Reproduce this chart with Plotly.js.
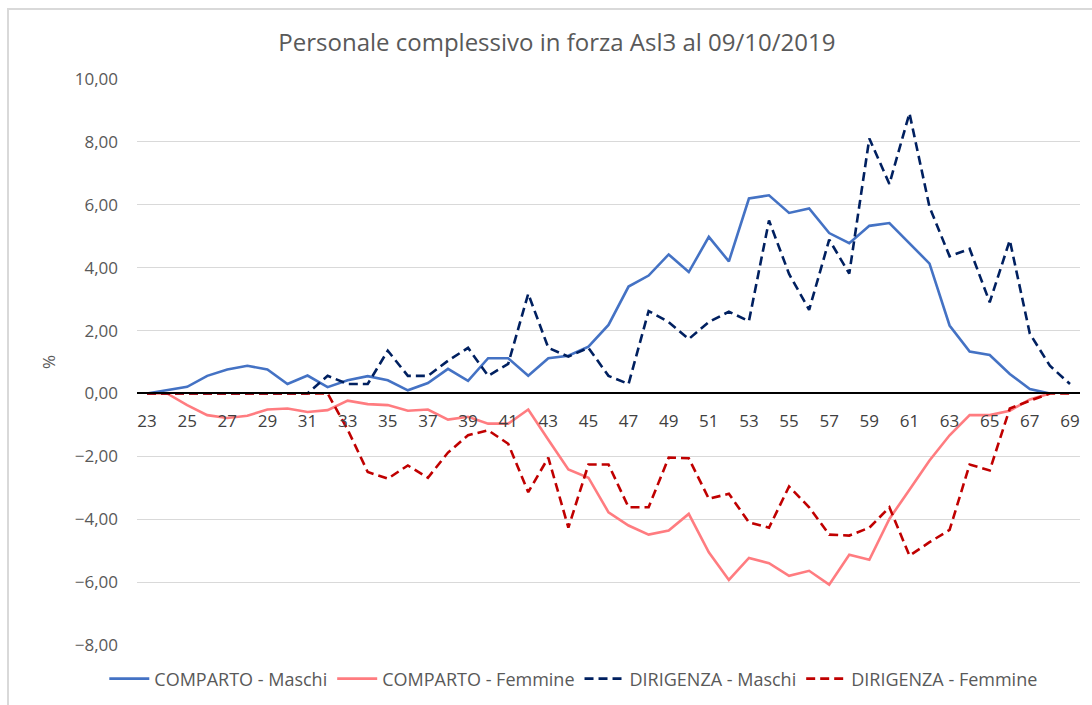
<!DOCTYPE html>
<html>
<head>
<meta charset="utf-8">
<script src="https://cdn.plot.ly/plotly-3.0.1.min.js"></script>
<style>
  html, body { margin: 0; padding: 0; background: #fff; }
  #chart { width: 1092px; height: 705px; }
</style>
</head>
<body>
<div id="chart"></div>
<script>
const ages = [];
for (let a = 23; a <= 69; a++) ages.push(a);

// valori (%), eta 23..69
const compMaschi = [0, 0.1, 0.21, 0.56, 0.76, 0.88, 0.76, 0.3, 0.57, 0.2,
    0.42, 0.55, 0.42, 0.1, 0.33, 0.78, 0.4, 1.12, 1.12, 0.56,
    1.12, 1.2, 1.49, 2.18, 3.4, 3.75, 4.42, 3.86, 4.98, 4.2,
    6.2, 6.3, 5.74, 5.88, 5.1, 4.78, 5.33, 5.42, 4.76, 4.13,
    2.16, 1.33, 1.22, 0.62, 0.14, 0, null];

const compFemmine = [0, 0, -0.37, -0.69, -0.78, -0.71, -0.51, -0.48, -0.59, -0.53,
    -0.23, -0.34, -0.37, -0.55, -0.51, -0.83, -0.74, -0.96, -0.96, -0.51,
    -1.47, -2.42, -2.68, -3.78, -4.2, -4.49, -4.36, -3.83, -5.05, -5.93,
    -5.23, -5.4, -5.8, -5.64, -6.08, -5.13, -5.29, -3.99, -3.06, -2.13,
    -1.33, -0.69, -0.69, -0.55, -0.19, 0, null];

const dirMaschi = [0, 0, 0, 0, 0, 0, 0, 0, 0, 0.56,
    0.3, 0.3, 1.36, 0.56, 0.56, 1.04, 1.45, 0.56, 0.94, 3.17,
    1.45, 1.17, 1.45, 0.56, 0.3, 2.62, 2.27, 1.73, 2.27, 2.6,
    2.3, 5.5, 3.8, 2.66, 4.89, 3.81, 8.11, 6.66, 8.91, 5.93,
    4.36, 4.6, 2.9, 4.87, 1.9, 0.88, 0.3];

const dirFemmine = [0, 0, 0, 0, 0, 0, 0, 0, 0, 0,
    -1.15, -2.5, -2.71, -2.29, -2.68, -1.88, -1.33, -1.17, -1.6, -3.14,
    -2.04, -4.27, -2.26, -2.26, -3.62, -3.62, -2.04, -2.06, -3.35, -3.19,
    -4.1, -4.27, -2.96, -3.62, -4.49, -4.52, -4.27, -3.62, -5.16, -4.73,
    -4.34, -2.26, -2.45, -0.48, -0.23, 0, 0];

const xTicks = [];
for (let a = 23; a <= 69; a += 2) xTicks.push(a);
const yTicks = [-8, -6, -4, -2, 0, 2, 4, 6, 8, 10];

const font = 'Open Sans, Liberation Sans, sans-serif';

const traces = [
    { x: ages, y: compMaschi, name: 'COMPARTO - Maschi',
      line: { color: '#4472C4', width: 2.6 } },
    { x: ages, y: compFemmine, name: 'COMPARTO - Femmine',
      line: { color: '#FF7C80', width: 2.6 } },
    { x: ages, y: dirMaschi, name: 'DIRIGENZA - Maschi',
      line: { color: '#002060', width: 2.6, dash: '9px,5px' } },
    { x: ages, y: dirFemmine, name: 'DIRIGENZA - Femmine',
      line: { color: '#C00000', width: 2.6, dash: '9px,5px' } }
].map(t => Object.assign({ type: 'scatter', mode: 'lines', hoverinfo: 'x+y' }, t));

const layout = {
    width: 1092, height: 705,
    margin: { l: 137, r: 12, t: 79, b: 60 },
    paper_bgcolor: '#fff', plot_bgcolor: '#fff',
    separators: ',.',
    font: { family: font, color: '#595959' },
    title: {
        text: 'Personale complessivo in forza Asl3 al 09/10/2019',
        font: { family: font, size: 24, color: '#595959' },
        xref: 'container', x: 0.51, xanchor: 'center', y: 0.94, yanchor: 'middle'
    },
    xaxis: {
        range: [22.5, 69.5],
        tickvals: xTicks,
        anchor: 'free', position: 8 / 18,
        showgrid: false, zeroline: false,
        showline: true, linecolor: '#000', linewidth: 1.5,
        ticks: '', ticklen: 0,
        ticklabelstandoff: 12,
        tickfont: { family: font, size: 17, color: '#404040' }
    },
    yaxis: {
        range: [-8, 10],
        tickvals: yTicks,
        tickformat: '.2f',
        showgrid: true, gridcolor: '#d9d9d9', gridwidth: 1.3,
        zeroline: false, showline: false, ticks: '',
        ticklabelstandoff: 18,
        tickfont: { family: font, size: 17, color: '#595959' },
        title: { text: '%', font: { family: font, size: 17, color: '#595959' }, standoff: 14 }
    },
    legend: {
        orientation: 'h', xref: 'container', yref: 'container',
        x: 0.525, xanchor: 'center', y: 0.037, yanchor: 'middle',
        font: { family: font, size: 18, color: '#595959' },
        itemwidth: 40, tracegroupgap: 0
    },
    shapes: [{
        type: 'rect', xref: 'paper', yref: 'paper', layer: 'below',
        x0: -0.1368, x1: 1.05, y0: -0.2, y1: 1.1237,
        line: { color: '#d9d9d9', width: 2 }, fillcolor: 'rgba(0,0,0,0)'
    }],
    showlegend: true
};

Plotly.newPlot('chart', traces, layout, { displayModeBar: false, responsive: false });
</script>
</body>
</html>
